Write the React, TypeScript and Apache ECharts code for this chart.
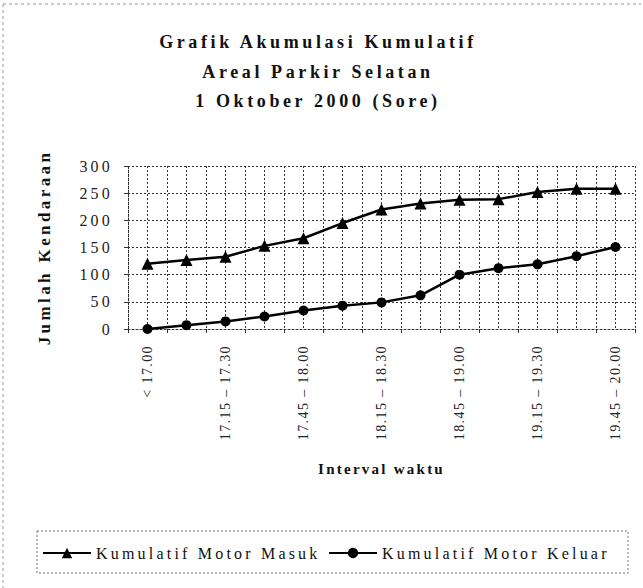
import React, { useEffect, useRef } from "react";
import * as echarts from "echarts";

const categories = [
  "< 17.00",
  "17.00 – 17.15",
  "17.15 – 17.30",
  "17.30 – 17.45",
  "17.45 – 18.00",
  "18.00 – 18.15",
  "18.15 – 18.30",
  "18.30 – 18.45",
  "18.45 – 19.00",
  "19.00 – 19.15",
  "19.15 – 19.30",
  "19.30 – 19.45",
  "19.45 – 20.00",
];
const motorMasuk = [120, 127, 133, 153, 167, 195, 220, 231, 238, 239, 252, 258, 258];
const motorKeluar = [0, 7, 14, 23, 34, 43, 49, 62, 100, 112, 119, 134, 151];
const seriesNames = ["Kumulatif Motor Masuk", "Kumulatif Motor Keluar"];
const titleLines = ["Grafik Akumulasi Kumulatif", "Areal Parkir Selatan", "1 Oktober 2000 (Sore)"];
const yTickLabels = ["0", "50", "100", "150", "200", "250", "300"];
const yAxisName = "Jumlah Kendaraan";
const xAxisName = "Interval waktu";

const SERIF = "'Liberation Serif', 'Times New Roman', serif";

export default function App() {
  const ref = useRef<HTMLDivElement>(null);
  useEffect(() => {
    const el = ref.current!;
    const chart = echarts.init(el, null, { renderer: "svg" });
    const gridDot = { type: [2, 2] as any, color: "#333", width: 1 };
    const option: any = {
      animation: false,
      backgroundColor: "#fff",
      graphic: [
        { type: "line", shape: { x1: 3, y1: 4, x2: 641, y2: 4 }, style: { stroke: "#999", lineDash: [3, 3], lineWidth: 1 } },
        { type: "line", shape: { x1: 3, y1: 4, x2: 3, y2: 588 }, style: { stroke: "#999", lineDash: [3, 3], lineWidth: 1 } },
        { type: "rect", shape: { x: 37, y: 531, width: 591, height: 42 }, style: { fill: "none", stroke: "#777", lineDash: [2, 2], lineWidth: 1 } },
        ...titleLines.map((t, i) => ({
          type: "text",
          x: 318,
          y: 42 + i * 29.5,
          style: {
            text: t,
            font: `bold 18px ${SERIF}`,
            fill: "#111",
            align: "center",
            verticalAlign: "middle",
          },
        })),
      ],
      grid: { left: 128, right: 8, top: 166, bottom: 259, containLabel: false },
      legend: [
        {
          data: [seriesNames[0]],
          left: 42,
          top: 545,
          padding: 0,
          itemWidth: 48,
          itemHeight: 13,
          itemGap: 0,
          textStyle: { fontFamily: SERIF, fontSize: 16, color: "#111" },
        },
        {
          data: [seriesNames[1]],
          left: 328,
          top: 545,
          padding: 0,
          itemWidth: 48,
          itemHeight: 13,
          itemGap: 0,
          textStyle: { fontFamily: SERIF, fontSize: 16, color: "#111" },
        },
      ],
      xAxis: [
        {
          type: "category",
          data: categories,
          boundaryGap: true,
          axisLine: { show: true, lineStyle: { ...gridDot } },
          axisTick: { show: true, length: 4, interval: 0, lineStyle: { color: "#333" } },
          axisLabel: {
            interval: 1,
            rotate: 90,
            margin: 16,
            fontFamily: SERIF,
            fontSize: 14,
            color: "#222",
          },
          splitLine: { show: false },
          name: xAxisName,
          nameLocation: "middle",
          nameGap: 132,
          nameTextStyle: { fontFamily: SERIF, fontSize: 15, fontWeight: "bold", color: "#111" },
        },
        {
          type: "value",
          min: 0,
          max: 26,
          interval: 1,
          position: "top",
          axisLine: { show: false },
          axisTick: { show: false },
          axisLabel: { show: false },
          splitLine: { show: true, lineStyle: { ...gridDot } },
        },
      ],
      yAxis: {
        type: "value",
        min: 0,
        max: 300,
        interval: 50,
        axisLine: { show: true, lineStyle: { ...gridDot } },
        axisTick: { show: true, length: 4, lineStyle: { color: "#333" } },
        axisLabel: {
          margin: 15,
          fontFamily: SERIF,
          fontSize: 16,
          color: "#222",
          formatter: (v: number) => yTickLabels[Math.round(v / 50)] ?? String(v),
        },
        splitLine: { show: true, lineStyle: { ...gridDot } },
        name: yAxisName,
        nameLocation: "middle",
        nameGap: 75,
        nameTextStyle: { fontFamily: SERIF, fontSize: 17, fontWeight: "bold", color: "#111" },
      },
      series: [
        {
          name: seriesNames[0],
          type: "line",
          data: motorMasuk,
          xAxisIndex: 0,
          symbol: "triangle",
          symbolSize: 12,
          itemStyle: { color: "#000" },
          lineStyle: { color: "#000", width: 2.5 },
        },
        {
          name: seriesNames[1],
          type: "line",
          data: motorKeluar,
          xAxisIndex: 0,
          symbol: "circle",
          symbolSize: 10,
          itemStyle: { color: "#000" },
          lineStyle: { color: "#000", width: 2.5 },
        },
      ],
    };
    chart.setOption(option);

    const spacing = new Map<string, string>();
    titleLines.forEach((t) => spacing.set(t, "0.2em"));
    yTickLabels.forEach((t) => spacing.set(t, "0.2em"));
    categories.forEach((t) => spacing.set(t, "0.1em"));
    seriesNames.forEach((t) => spacing.set(t, "0.2em"));
    spacing.set(yAxisName, "0.2em");
    spacing.set(xAxisName, "0.15em");
    const apply = () => {
      el.querySelectorAll("text").forEach((t) => {
        const s = spacing.get((t.textContent || "").trim());
        if (s) (t as SVGTextElement).style.letterSpacing = s;
      });
    };
    apply();
    chart.on("finished", apply);
    const timer = setTimeout(apply, 60);
    return () => {
      clearTimeout(timer);
      chart.dispose();
    };
  }, []);
  return (
    <div
      ref={ref}
      style={{ position: "fixed", left: 0, top: 0, width: 643, height: 588, background: "#fff" }}
    />
  );
}
